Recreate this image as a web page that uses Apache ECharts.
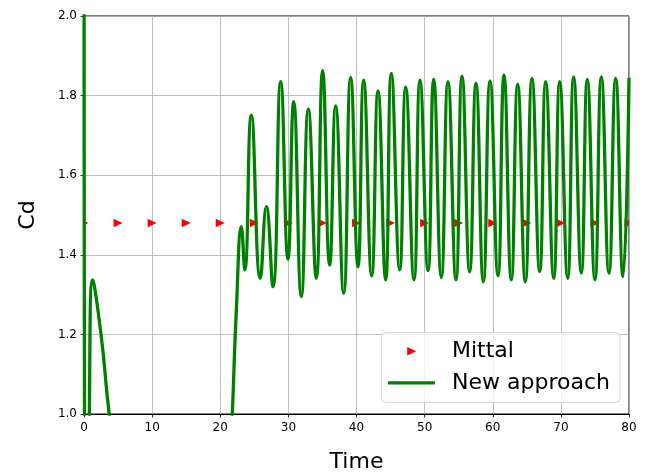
<!DOCTYPE html>
<html>
<head>
<meta charset="utf-8">
<script src="https://cdn.jsdelivr.net/npm/echarts@6/dist/echarts.min.js"></script>
<style>
  html, body { margin: 0; padding: 0; background: #fff; }
  #chart { width: 647px; height: 474px; }
</style>
</head>
<body>
<div id="chart"></div>
<script>
// Reference drag coefficient (Mittal), constant level sampled every 5 time units
const mittalTime = [0, 5, 10, 15, 20, 25, 30, 35, 40, 45, 50, 55, 60, 65, 70, 75, 80];
const mittalCd = [1.48, 1.48, 1.48, 1.48, 1.48, 1.48, 1.48, 1.48, 1.48, 1.48, 1.48, 1.48, 1.48, 1.48, 1.48, 1.48, 1.48];

// New approach: Cd history (turning points of the signal)
const newTime = [
  0, 0.3, 0.78, 1.27, 2.5, 3.7, 6, 12, 18, 21.1, 21.77, 22.36,
  23.1, 23.6, 24.56, 25.88, 26.77, 27.74, 28.87, 29.94, 30.78, 31.9,
  32.93, 34.1, 35.03, 36.06, 36.94, 38.12, 39.14, 40.22, 41.05, 42.23,
  43.16, 44.28, 45.11, 46.34, 47.22, 48.44, 49.32, 50.5, 51.33, 52.45,
  53.43, 54.6, 55.49, 56.61, 57.54, 58.62, 59.6, 60.77, 61.65, 62.72,
  63.66, 64.78, 65.76, 66.89, 67.77, 68.95, 69.83, 71.0, 71.88, 73.0,
  73.88, 75.0, 75.94, 77.06, 78.04, 79.12, 80.0
];
const newCd = [
  2.6, 0.2, 1.0, 1.337, 1.2, 1.0, 0.7, 0.55, 0.6, 0.75, 1.0, 1.261,
  1.471, 1.362, 1.751, 1.341, 1.521, 1.320, 1.835, 1.389, 1.785, 1.295,
  1.766, 1.341, 1.863, 1.374, 1.774, 1.303, 1.846, 1.370, 1.839, 1.347,
  1.812, 1.337, 1.856, 1.362, 1.821, 1.337, 1.839, 1.360, 1.841, 1.343,
  1.835, 1.337, 1.849, 1.357, 1.831, 1.332, 1.837, 1.347, 1.852, 1.337,
  1.829, 1.332, 1.843, 1.358, 1.835, 1.341, 1.835, 1.341, 1.847, 1.354,
  1.841, 1.337, 1.847, 1.354, 1.843, 1.345, 1.845
];

// Axis ticks
const xTicks = { min: 0, max: 80, step: 10 };
const yTicks = { min: 1.0, max: 2.0, step: 0.2 };

const FONT = 'DejaVu Sans';

const chart = echarts.init(document.getElementById('chart'), null, { renderer: 'canvas' });

const mittalData = mittalTime.map((t, i) => [t, mittalCd[i]]);
const newData = newTime.map((t, i) => [t, newCd[i]]);

chart.setOption({
  animation: false,
  backgroundColor: '#ffffff',
  grid: {
    left: 84, right: 18, top: 16, bottom: 60,
    outerBoundsMode: 'none',
    show: true, borderColor: '#000', borderWidth: 1
  },
  xAxis: {
    type: 'value',
    min: xTicks.min, max: xTicks.max, interval: xTicks.step,
    name: 'Time', nameLocation: 'middle', nameGap: 37,
    nameTextStyle: { fontFamily: FONT, fontSize: 22, color: '#000' },
    axisLine: { show: true, onZero: false, lineStyle: { color: '#000', width: 1 } },
    axisTick: { show: true, length: 3.5, lineStyle: { color: '#000', width: 0.8 } },
    axisLabel: { fontFamily: FONT, fontSize: 12, color: '#000', margin: 8 },
    splitLine: { show: true, lineStyle: { color: '#b0b0b0', width: 0.8 } }
  },
  yAxis: {
    type: 'value',
    min: yTicks.min, max: yTicks.max, interval: yTicks.step,
    name: 'Cd', nameLocation: 'middle', nameGap: 45,
    nameTextStyle: { fontFamily: FONT, fontSize: 22, color: '#000' },
    axisLine: { show: true, onZero: false, lineStyle: { color: '#000', width: 1 } },
    axisTick: { show: true, length: 3.5, lineStyle: { color: '#000', width: 0.8 } },
    axisLabel: {
      fontFamily: FONT, fontSize: 12, color: '#000', margin: 7,
      formatter: v => v.toFixed(1)
    },
    splitLine: { show: true, lineStyle: { color: '#b0b0b0', width: 0.8 } }
  },
  legend: {
    orient: 'vertical',
    left: 381.7, top: 332.7,
    padding: [5.5, 10, 6.5, 6.3],
    itemGap: 5.6,
    itemWidth: 47, itemHeight: 14,
    backgroundColor: 'rgba(255,255,255,0.8)',
    borderColor: '#d3d3d3', borderWidth: 1, borderRadius: 4,
    textStyle: {
      fontFamily: FONT, fontSize: 22, color: '#000', lineHeight: 26,
      padding: [0, 0, 0, 12]
    },
    data: [
      // right-pointing triangle centred in the icon box
      { name: 'Mittal', icon: 'path://M0,0M47,14M19.2,2.75L28.2,7L19.2,11.25Z' },
      // thick line sample across the icon box
      { name: 'New approach', icon: 'path://M0,0M47,14M0,5.4L47,5.4L47,8.6L0,8.6Z' }
    ]
  },
  series: [
    {
      name: 'Mittal',
      type: 'custom',
      clip: true,
      itemStyle: { color: '#ff0000' },
      data: mittalData,
      renderItem(params, api) {
        const p = api.coord([api.value(0), api.value(1)]);
        const w = 9, h = 8.5;
        return {
          type: 'polygon',
          shape: { points: [[p[0] - w / 2, p[1] - h / 2], [p[0] + w / 2, p[1]], [p[0] - w / 2, p[1] + h / 2]] },
          style: { fill: '#ff0000' }
        };
      }
    },
    {
      name: 'New approach',
      type: 'line',
      data: newData,
      smooth: 0.5,
      symbol: 'none',
      showSymbol: false,
      clip: true,
      color: '#008000',
      itemStyle: { color: '#008000' },
      lineStyle: { color: '#008000', width: 3.3 }
    }
  ]
});
</script>
</body>
</html>
